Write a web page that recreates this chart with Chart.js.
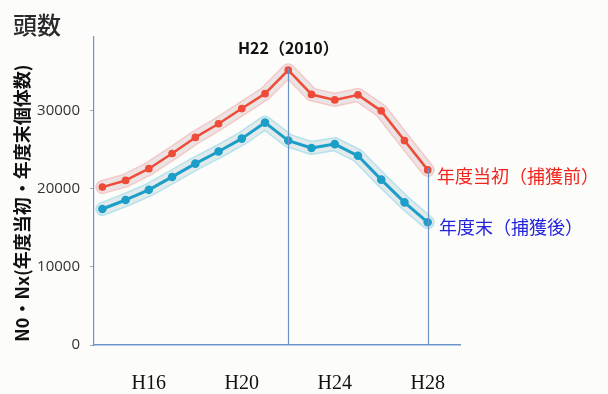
<!DOCTYPE html>
<html>
<head>
<meta charset="utf-8">
<script src="https://cdn.jsdelivr.net/npm/chart.js@4/dist/chart.umd.min.js"></script>
<style>
  html, body { margin: 0; padding: 0; background: #fcfcfa; }
  #wrap { width: 608px; height: 394px; position: relative; }
</style>
</head>
<body>
<div id="wrap"><canvas id="c"></canvas></div>
<script>
// Heisei years H14..H28
const years = [14, 15, 16, 17, 18, 19, 20, 21, 22, 23, 24, 25, 26, 27, 28];
// start of fiscal year (before capture)
const before = [20200, 21050, 22550, 24500, 26550, 28300, 30250, 32150, 35150, 32050, 31350, 32000, 29950, 26150, 22400];
// end of fiscal year (after capture)
const after = [17400, 18550, 19850, 21500, 23200, 24750, 26400, 28450, 26150, 25200, 25700, 24200, 21150, 18250, 15700];
const xTicks = [16, 20, 24, 28];
const yTicks = [0, 10000, 20000, 30000];

const RED = '#f04b38';
const BLUE = '#1b9fc9';
const AXIS = '#6a94c8';

const pts = arr => years.map((y, i) => ({ x: y, y: arr[i] }));

// vertical markers + free texts
const overlay = {
  id: 'overlay',
  afterDatasetsDraw(chart) {
    const { ctx, scales: { x, y }, chartArea } = chart;
    ctx.save();
    ctx.strokeStyle = AXIS;
    ctx.lineWidth = 1.2;
    [[22, before[8]], [28, before[14]]].forEach(([yr, v]) => {
      const px = Math.round(x.getPixelForValue(yr)) + 0.5;
      ctx.beginPath();
      ctx.moveTo(px, y.getPixelForValue(v) - 2);
      ctx.lineTo(px, chartArea.bottom);
      ctx.stroke();
    });

    ctx.textBaseline = 'middle';
    ctx.fillStyle = '#2a2a2a';
    ctx.font = '500 24px "Noto Sans CJK JP"';
    ctx.fillText('頭数', 13, 25);

    ctx.fillStyle = '#111';
    ctx.font = 'bold 16px "Noto Sans CJK JP"';
    ctx.textAlign = 'center';
    ctx.fillText('H22（2010）', x.getPixelForValue(22), 48);

    ctx.textAlign = 'left';
    ctx.font = '18px "Noto Sans CJK JP"';
    ctx.fillStyle = '#f0251e';
    ctx.fillText('年度当初（捕獲前）', 437, 176);
    ctx.fillStyle = '#2424dc';
    ctx.fillText('年度末（捕獲後）', 439, 227);

    // rotated y-axis title
    ctx.translate(22, 203);
    ctx.rotate(-Math.PI / 2);
    ctx.textAlign = 'center';
    ctx.fillStyle = '#111';
    ctx.font = 'bold 18px "Noto Sans CJK JP"';
    ctx.fillText('N0・Nx(年度当初・年度末個体数)', 0, 0);
    ctx.restore();
  }
};

new Chart(document.getElementById('c'), {
  type: 'line',
  data: {
    datasets: [
      { data: pts(before), borderColor: RED, backgroundColor: RED, borderWidth: 2.5, pointRadius: 2.6, pointHoverRadius: 2.6, order: 0 },
      { data: pts(after), borderColor: BLUE, backgroundColor: BLUE, borderWidth: 3, pointRadius: 2.8, pointHoverRadius: 2.8, order: 0 },
      // soft halos behind each line: pale grey core with thin tinted rim
      { data: pts(before), borderColor: 'rgba(234,228,228,1)', borderWidth: 11, pointRadius: 0, order: 1 },
      { data: pts(after), borderColor: 'rgba(228,234,235,1)', borderWidth: 11, pointRadius: 0, order: 1 },
      { data: pts(before), borderColor: 'rgba(242,178,178,0.7)', borderWidth: 14, pointRadius: 0, order: 2 },
      { data: pts(after), borderColor: 'rgba(150,215,228,0.7)', borderWidth: 14, pointRadius: 0, order: 2 }
    ]
  },
  options: {
    responsive: true,
    maintainAspectRatio: false,
    animation: false,
    layout: { padding: { top: 37, right: 148, left: 0, bottom: 0 } },
    plugins: { legend: { display: false }, tooltip: { enabled: false } },
    elements: { line: { tension: 0, borderJoinStyle: 'round', borderCapStyle: 'round' } },
    scales: {
      x: {
        type: 'linear',
        min: 13.64,
        max: 29.39,
        afterBuildTicks: s => { s.ticks = xTicks.map(v => ({ value: v })); },
        afterFit: s => { s.height = 49; },
        grid: { display: false, drawTicks: false },
        border: { display: true, color: AXIS, width: 1.5 },
        ticks: {
          padding: 27,
          color: '#111',
          font: { family: '"Liberation Serif", serif', size: 20 },
          callback: v => 'H' + v
        }
      },
      y: {
        min: 0,
        max: 39400,
        afterBuildTicks: s => { s.ticks = yTicks.map(v => ({ value: v })); },
        afterFit: s => { s.width = 94; },
        grid: { display: true, drawOnChartArea: false, drawTicks: true, tickLength: 4, tickColor: '#aaa' },
        border: { display: true, color: AXIS, width: 1.2 },
        ticks: {
          padding: 10,
          color: '#333',
          font: { family: '"Open Sans", sans-serif', size: 15 },
          callback: v => String(v)
        }
      }
    }
  },
  plugins: [overlay]
});
</script>
</body>
</html>
